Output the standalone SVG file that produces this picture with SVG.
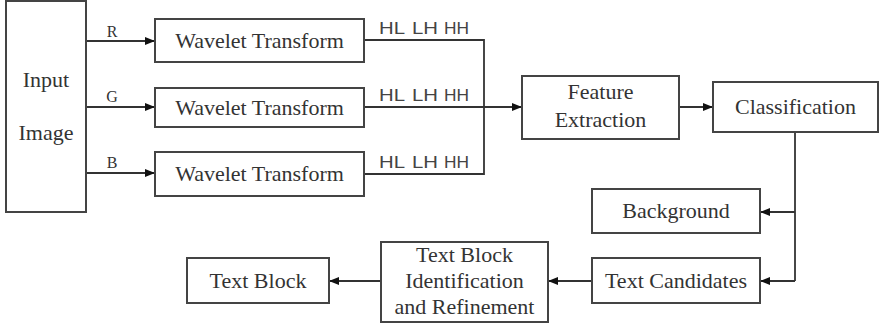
<svg xmlns="http://www.w3.org/2000/svg" width="879" height="326" viewBox="0 0 879 326">
  <style>
    .box { fill: #ffffff; stroke: #444; stroke-width: 2; }
    .lbl { font-family: "Liberation Serif", "Times New Roman", serif; font-size: 22px; fill: #333; text-anchor: middle; }
    .sm { font-family: "Liberation Serif", "Times New Roman", serif; font-size: 16px; fill: #333; text-anchor: middle; }
    .band { font-family: "Liberation Sans", Arial, sans-serif; font-size: 16px; fill: #444; }
    .wire { fill: none; stroke: #333; stroke-width: 1.8; }
    .arr { fill: none; stroke: #333; stroke-width: 1.8; marker-end: url(#head); }
  </style>
  <defs>
    <marker id="head" viewBox="0 0 10 8" refX="10" refY="4" markerWidth="10" markerHeight="8" markerUnits="userSpaceOnUse" orient="auto">
      <path d="M0,0 L10,4 L0,8 Z" fill="#111"/>
    </marker>
  </defs>
  <rect width="879" height="326" fill="#ffffff"/>

  <g id="connectors">
    <path class="arr" d="M86,41 H155"/>
    <path class="arr" d="M86,107 H155"/>
    <path class="arr" d="M86,173 H155"/>
    <path class="wire" d="M364,40 H484 V174 H364"/>
    <path class="arr" d="M364,107 H522"/>
    <path class="arr" d="M679,107 H713"/>
    <path class="wire" d="M795,132 V281"/>
    <path class="arr" d="M795,212 H760"/>
    <path class="arr" d="M795,281 H760"/>
    <path class="arr" d="M592,281 H548"/>
    <path class="arr" d="M381,281 H329"/>
  </g>

  <g id="channel-labels">
    <text class="sm" x="112" y="37">R</text>
    <text class="sm" x="112" y="102">G</text>
    <text class="sm" x="112" y="168">B</text>
  </g>

  <g id="band-labels">
    <text class="band" x="379" y="34" textLength="26" lengthAdjust="spacingAndGlyphs">HL</text>
    <text class="band" x="412" y="34" textLength="26" lengthAdjust="spacingAndGlyphs">LH</text>
    <text class="band" x="444" y="34" textLength="25" lengthAdjust="spacingAndGlyphs">HH</text>
    <text class="band" x="379" y="101" textLength="26" lengthAdjust="spacingAndGlyphs">HL</text>
    <text class="band" x="412" y="101" textLength="26" lengthAdjust="spacingAndGlyphs">LH</text>
    <text class="band" x="444" y="101" textLength="25" lengthAdjust="spacingAndGlyphs">HH</text>
    <text class="band" x="379" y="168" textLength="26" lengthAdjust="spacingAndGlyphs">HL</text>
    <text class="band" x="412" y="168" textLength="26" lengthAdjust="spacingAndGlyphs">LH</text>
    <text class="band" x="444" y="168" textLength="25" lengthAdjust="spacingAndGlyphs">HH</text>
  </g>

  <g id="input-image">
    <rect class="box" x="6" y="1" width="80" height="211"/>
    <text class="lbl" x="46" y="87">Input</text>
    <text class="lbl" x="46" y="140">Image</text>
  </g>

  <g id="wavelet-r">
    <rect class="box" x="155" y="19" width="209" height="43"/>
    <text class="lbl" x="259.5" y="48">Wavelet Transform</text>
  </g>
  <g id="wavelet-g">
    <rect class="box" x="155" y="88" width="209" height="39"/>
    <text class="lbl" x="259.5" y="115">Wavelet Transform</text>
  </g>
  <g id="wavelet-b">
    <rect class="box" x="155" y="152" width="209" height="44"/>
    <text class="lbl" x="259.5" y="181">Wavelet Transform</text>
  </g>

  <g id="feature-extraction">
    <rect class="box" x="522" y="76" width="157" height="63"/>
    <text class="lbl" x="600.5" y="99">Feature</text>
    <text class="lbl" x="600.5" y="127">Extraction</text>
  </g>

  <g id="classification">
    <rect class="box" x="713" y="82" width="165" height="50"/>
    <text class="lbl" x="795.5" y="114">Classification</text>
  </g>

  <g id="background">
    <rect class="box" x="592" y="189" width="168" height="44"/>
    <text class="lbl" x="676" y="218">Background</text>
  </g>

  <g id="text-candidates">
    <rect class="box" x="592" y="258" width="168" height="45"/>
    <text class="lbl" x="676" y="288">Text Candidates</text>
  </g>

  <g id="refinement">
    <rect class="box" x="381" y="242" width="167" height="80"/>
    <text class="lbl" x="464.5" y="262">Text Block</text>
    <text class="lbl" x="464.5" y="288">Identification</text>
    <text class="lbl" x="464.5" y="314">and Refinement</text>
  </g>

  <g id="text-block">
    <rect class="box" x="187" y="258" width="142" height="45"/>
    <text class="lbl" x="258" y="288">Text Block</text>
  </g>
</svg>
